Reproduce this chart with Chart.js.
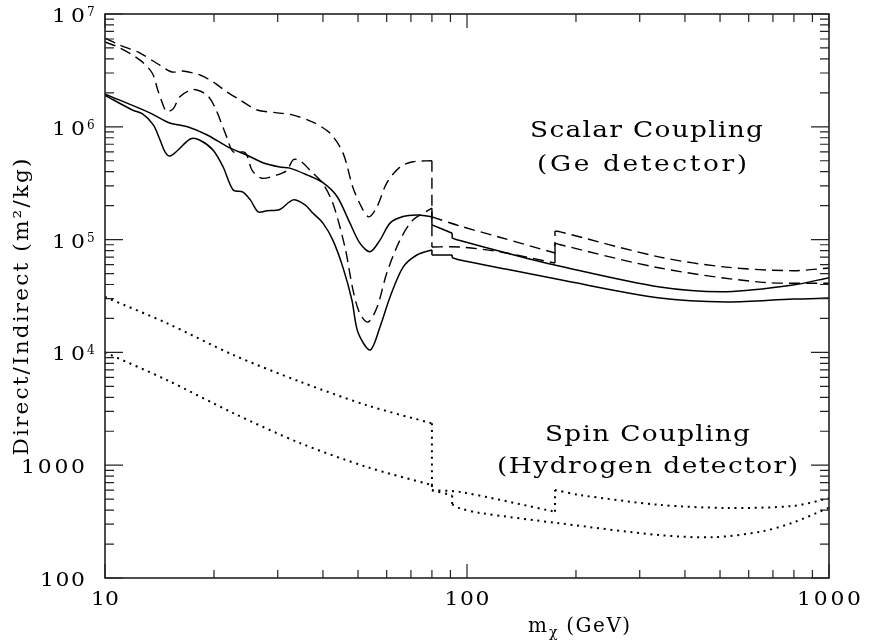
<!DOCTYPE html>
<html>
<head>
<meta charset="utf-8">
<script src="https://cdn.jsdelivr.net/npm/chart.js@4.4.1/dist/chart.umd.min.js"></script>
<style>
  html, body { margin: 0; padding: 0; background: #fff; }
  #wrap { width: 881px; height: 641px; }
</style>
</head>
<body>
<div id="wrap"><canvas id="chart"></canvas></div>
<script>
// x = m_chi (GeV), y = Direct/Indirect (m^2/kg)
// every curve is a list of smooth pieces, joined by vertical steps at the W, Z and top thresholds
const scalarSolidUpper = [
  [[10, 1.95e6], [13.3, 1.33e6], [15.1, 1.08e6], [16.9, 1.0e6], [19.1, 8.5e5], [22.1, 6.5e5],
   [24.7, 5.6e5], [27.3, 4.8e5], [30.4, 4.4e5], [32.4, 4.3e5], [36.1, 3.75e5], [40, 3.2e5],
   [43.8, 2.4e5], [47.5, 1.4e5], [50.6, 9.3e4], [54, 7.8e4], [57.5, 9.9e4], [61.3, 1.4e5],
   [66.6, 1.6e5], [72.7, 1.65e5], [77.5, 1.62e5], [80, 1.59e5]],
  [[80, 1.35e5], [91, 1.14e5]],
  [[91, 1.03e5], [95.6, 9.8e4], [131, 7.5e4], [181, 5.8e4], [341, 3.8e4], [523, 3.45e4],
   [795, 3.95e4], [1000, 4.6e4]]
];

const scalarSolidLower = [
  [[10, 1.9e6], [11.9, 1.41e6], [12.7, 1.3e6], [13.6, 1.04e6], [14.2, 7.6e5], [14.65, 6.0e5],
   [15.1, 5.5e5], [15.9, 6.2e5], [17.2, 7.8e5], [18.3, 7.6e5], [19.9, 6.2e5], [21.2, 4.4e5],
   [22.6, 2.75e5], [24.05, 2.64e5], [25.2, 2.25e5], [26.5, 1.76e5], [28, 1.8e5], [30.4, 1.85e5],
   [33.1, 2.25e5], [35.7, 2.03e5], [37.5, 1.72e5], [40, 1.4e5], [42.6, 9.9e4], [45.4, 5.7e4],
   [48.1, 2.9e4], [50, 1.5e4], [54, 1.05e4], [57.5, 1.68e4], [61.3, 3.1e4], [66.6, 5.7e4],
   [72.7, 7.3e4], [80, 8.1e4]],
  [[80, 7.3e4], [91, 7.3e4]],
  [[91, 6.9e4], [95.6, 6.6e4], [131, 5.4e4], [181, 4.4e4], [341, 3.03e4], [523, 2.8e4],
   [795, 2.97e4], [1000, 3.03e4]]
];

const scalarDashedUpper = [
  [[10, 6.1e6], [11, 5.3e6], [12.5, 4.5e6], [14.2, 3.5e6], [15.3, 3.06e6], [16.4, 3.12e6],
   [18.3, 2.88e6], [19.9, 2.5e6], [21.7, 2.04e6], [23.6, 1.73e6], [26.3, 1.41e6], [29.9, 1.33e6],
   [33.1, 1.27e6], [37.5, 1.1e6], [41.8, 8.8e5], [45.4, 5.9e5], [48.4, 2.9e5], [51.3, 1.9e5],
   [53.6, 1.59e5], [56.4, 1.95e5], [60.1, 3.2e5], [65.3, 4.4e5], [70.9, 4.9e5], [80, 5.0e5]],
  [[80, 1.59e5], [95.6, 1.32e5], [123, 1.05e5], [175, 7.6e4]],
  [[175, 1.19e5], [181, 1.17e5], [341, 7.0e4], [520, 5.7e4], [795, 5.3e4], [1000, 5.6e4]]
];

const scalarDashedLower = [
  [[10, 5.65e6], [11, 5.0e6], [12.5, 3.9e6], [13.5, 3.0e6], [14, 2.1e6], [14.65, 1.41e6],
   [14.85, 1.36e6], [15.45, 1.45e6], [16.1, 1.85e6], [17.5, 2.14e6], [19.1, 1.92e6], [20.1, 1.5e6],
   [21.7, 8.1e5], [22.6, 6.0e5], [24.4, 5.9e5], [25.5, 4.1e5], [27.1, 3.5e5], [29.9, 3.75e5],
   [31.8, 4.1e5], [33.1, 5.1e5], [34.6, 5.0e5], [36.9, 4.1e5], [39.8, 3.2e5], [42.6, 2.1e5],
   [46, 8.6e4], [48.4, 3.6e4], [50.6, 2.2e4], [53.3, 1.86e4], [56.4, 2.5e4], [60.1, 5.1e4],
   [65.3, 9.9e4], [70.9, 1.49e5], [80, 1.9e5]],
  [[80, 8.6e4], [95.6, 8.6e4], [123, 7.8e4], [175, 6.2e4]],
  [[175, 9.3e4], [181, 9.0e4], [341, 5.6e4], [645, 4.2e4], [1000, 4.1e4]]
];

const spinDottedUpper = [
  [[10, 3.1e4], [14.8, 1.82e4], [22.6, 9.5e3], [34.6, 5.5e3], [52.9, 3.4e3], [80, 2.35e3]],
  [[80, 600], [95.6, 580], [175, 387]],
  [[175, 603], [205, 544], [341, 445], [520, 418], [795, 435], [1000, 509]]
];

const spinDottedLower = [
  [[10, 1.0e4], [14.8, 5.7e3], [22.6, 2.9e3], [34.6, 1.57e3], [52.9, 964], [80, 667]],
  [[80, 600], [91, 540]],
  [[91, 450], [95.6, 415], [108.6, 377], [181, 305], [341, 240], [480, 230], [650, 258],
   [795, 310], [1000, 420]]
];

const xLabelValues = [10, 100, 1000];
const xLabelText = ['10', '100', '1000'];
const yLabelValues = [100, 1000, 1e4, 1e5, 1e6, 1e7];
const yLabelText = ['100', '1000', '10', '10', '10', '10'];
const yLabelExp = ['', '', '4', '5', '6', '7'];
const xDecades = [10, 100, 1000];
const yDecades = [100, 1000, 1e4, 1e5, 1e6, 1e7];

const dashed = [11, 6];
const dotted = [2, 4.7];

function pieceSet(points, dash, width, tension) {
  return {
    data: points.map(p => ({ x: p[0], y: p[1] })),
    borderColor: '#000',
    borderWidth: width,
    borderDash: dash,
    borderCapStyle: 'butt',
    pointRadius: 0,
    tension: tension,
    fill: false
  };
}

function curveSets(pieces, dash, width) {
  const out = [];
  pieces.forEach((piece, i) => {
    out.push(pieceSet(piece, dash, width, 0.3));
    if (i < pieces.length - 1) {
      // vertical step to the next piece
      out.push(pieceSet([piece[piece.length - 1], pieces[i + 1][0]], dash, width, 0));
    }
  });
  return out;
}

// draws text fitted to a given width: glyphs widened up to maxStretch, rest as spacing
function wideText(ctx, text, x, y, align, width, maxStretch) {
  ctx.letterSpacing = '0px';
  const w0 = ctx.measureText(text).width;
  const s = Math.min(width / w0, maxStretch);
  const n = [...text].length;
  const sp = n > 1 ? (width / s - w0) / (n - 1) : 0;
  let left = x;
  if (align === 'center') left = x - width / 2;
  if (align === 'right') left = x - width;
  ctx.save();
  ctx.translate(left, y);
  ctx.scale(s, 1);
  ctx.letterSpacing = sp + 'px';
  ctx.textAlign = 'left';
  ctx.fillText(text, 0, 0);
  ctx.restore();
  return left + width;
}

const labelWidth = { 2: 28, 3: 45, 4: 64 };

const frame = {
  id: 'frame',
  afterDraw(chart) {
    const { ctx, chartArea: a, scales: { x, y } } = chart;
    ctx.save();

    // ticks on all four sides, pointing inwards
    ctx.strokeStyle = '#222';
    ctx.lineWidth = 1.2;
    ctx.beginPath();
    xDecades.forEach(d => {
      for (let k = 1; k <= 9; k++) {
        const v = d * k;
        if (v > 1000) break;
        const px = x.getPixelForValue(v);
        const len = k === 1 ? 14 : 8;
        ctx.moveTo(px, a.bottom); ctx.lineTo(px, a.bottom - len);
        ctx.moveTo(px, a.top); ctx.lineTo(px, a.top + len);
      }
    });
    yDecades.forEach(d => {
      for (let k = 1; k <= 9; k++) {
        const v = d * k;
        if (v > 1e7) break;
        const py = y.getPixelForValue(v);
        const len = k === 1 ? 18 : 9;
        ctx.moveTo(a.left, py); ctx.lineTo(a.left + len, py);
        ctx.moveTo(a.right, py); ctx.lineTo(a.right - len, py);
      }
    });
    ctx.stroke();

    ctx.lineWidth = 1.6;
    ctx.strokeRect(a.left, a.top, a.right - a.left, a.bottom - a.top);

    ctx.fillStyle = '#000';
    ctx.textBaseline = 'alphabetic';

    // tick labels
    ctx.font = '19px "DejaVu Serif"';
    xLabelValues.forEach((v, i) => {
      const t = xLabelText[i];
      wideText(ctx, t, x.getPixelForValue(v), a.bottom + 27, 'center', labelWidth[t.length], 1.15);
    });
    yLabelValues.forEach((v, i) => {
      const py = y.getPixelForValue(v);
      const t = yLabelText[i];
      ctx.font = '19px "DejaVu Serif"';
      const w = yLabelExp[i] ? 33 : labelWidth[t.length];
      const end = wideText(ctx, t, a.left - 20, py + 8, 'right', w, 1.15);
      if (yLabelExp[i]) {
        ctx.font = '12px "DejaVu Serif"';
        ctx.textAlign = 'left';
        ctx.fillText(yLabelExp[i], end + 2, py + 2);
      }
    });

    // axis titles
    ctx.font = '20px "DejaVu Serif"';
    ctx.save();
    ctx.translate(28, 307);
    ctx.rotate(-Math.PI / 2);
    wideText(ctx, 'Direct/Indirect (m\u00b2/kg)', 0, 0, 'center', 297, 1.08);
    ctx.restore();

    ctx.font = '20px "DejaVu Serif"';
    ctx.textAlign = 'left';
    ctx.letterSpacing = '1px';
    ctx.fillText('m', 528, 632);
    let cx = 528 + ctx.measureText('m').width;
    ctx.font = '14px "DejaVu Serif"';
    ctx.letterSpacing = '0px';
    ctx.fillText('\u03c7', cx + 1, 637);
    cx += ctx.measureText('\u03c7').width + 2;
    ctx.font = '20px "DejaVu Serif"';
    ctx.letterSpacing = '1.5px';
    ctx.fillText(' (GeV)', cx, 632);
    ctx.letterSpacing = '0px';

    // region annotations
    ctx.font = '22px "DejaVu Serif"';
    wideText(ctx, 'Scalar Coupling', 646.5, 137, 'center', 233, 1.2);
    wideText(ctx, '(Ge detector)', 642, 171, 'center', 210, 1.2);
    wideText(ctx, 'Spin Coupling', 647.5, 441, 'center', 205, 1.2);
    wideText(ctx, '(Hydrogen detector)', 647.5, 473, 'center', 301, 1.2);

    ctx.restore();
  }
};

const datasets = [
  ...curveSets(scalarSolidUpper, [], 1.5),
  ...curveSets(scalarSolidLower, [], 1.5),
  ...curveSets(scalarDashedUpper, dashed, 1.4),
  ...curveSets(scalarDashedLower, dashed, 1.4),
  ...curveSets(spinDottedUpper, dotted, 2),
  ...curveSets(spinDottedLower, dotted, 2)
];

new Chart(document.getElementById('chart'), {
  type: 'line',
  data: { datasets },
  options: {
    responsive: true,
    maintainAspectRatio: false,
    animation: false,
    layout: { padding: { left: 105, right: 52, top: 14, bottom: 63 } },
    plugins: { legend: { display: false }, tooltip: { enabled: false } },
    scales: {
      x: { type: 'logarithmic', min: 10, max: 1000, display: false },
      y: { type: 'logarithmic', min: 100, max: 1e7, display: false }
    }
  },
  plugins: [frame]
});
</script>
</body>
</html>
